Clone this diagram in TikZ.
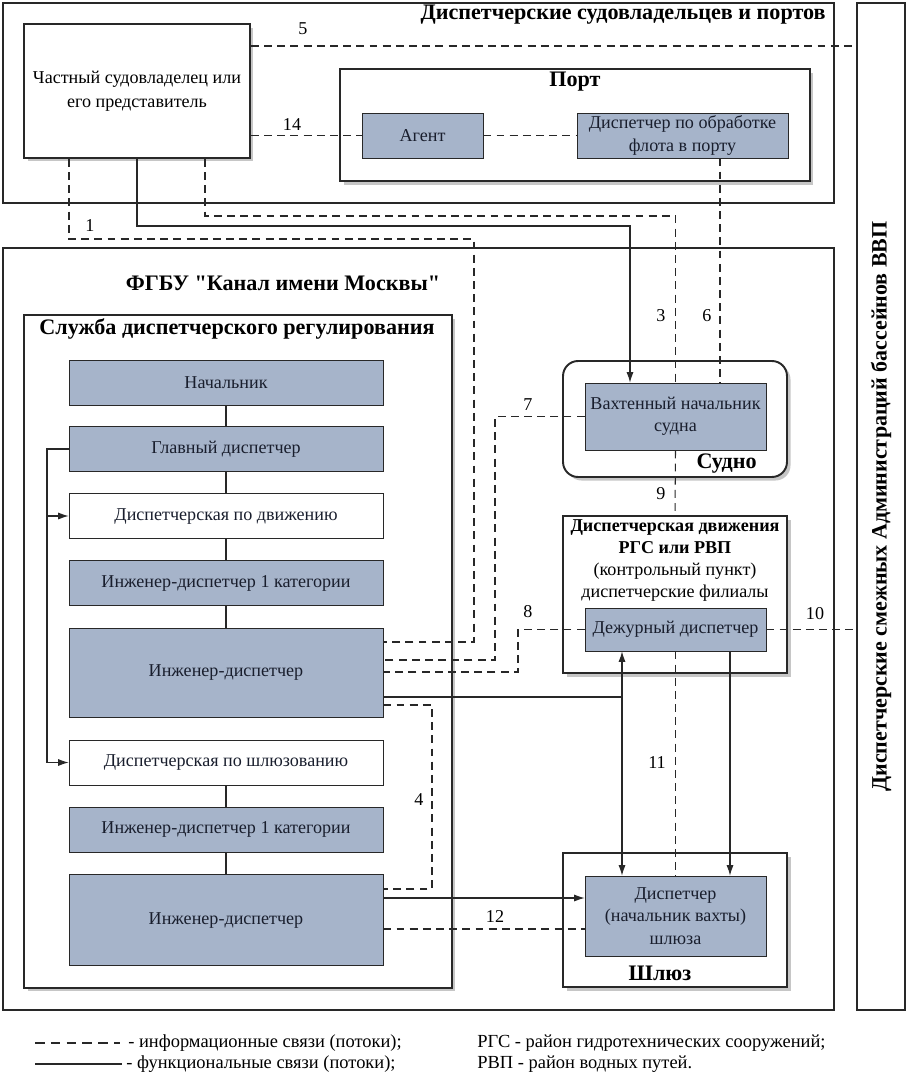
\documentclass[tikz,border=0pt]{standalone}
\usepackage{fontspec}
\setmainfont{Liberation Serif}[Ligatures=TeXOff]
\usetikzlibrary{arrows.meta,positioning,shadows,calc}
\definecolor{boxFill}{RGB}{166,180,202}
\definecolor{boxLine}{RGB}{40,40,40}
\definecolor{textInk}{RGB}{25,30,45}
\tikzstyle{outerBox} =[draw=boxLine,line width=1.2pt,rectangle,inner sep=0pt]
\tikzstyle{frameBox} =[draw=boxLine,line width=1.1pt,rectangle,inner sep=0pt,fill=white,
                       drop shadow={shadow xshift=2pt,shadow yshift=-2pt,opacity=0.45}]
\tikzstyle{grayBox}  =[draw=boxLine,fill=boxFill,rectangle,minimum width=6.28cm,minimum height=0.9cm,
                       inner sep=0pt,align=center,text=textInk,font=\fontsize{10.3}{12.8}\selectfont]
\tikzstyle{whiteBox} =[grayBox,fill=white]
\tikzstyle{title}    =[inner sep=0pt,align=center,font=\bfseries\fontsize{12.6}{14.5}\selectfont]
\tikzstyle{num}      =[inner sep=1pt,font=\fontsize{10.3}{12}\selectfont]
\tikzstyle{note}     =[inner sep=0pt,anchor=west,font=\fontsize{10.5}{12}\selectfont]
\tikzstyle{info}     =[draw=boxLine,line width=0.6pt,dash pattern=on 4.5pt off 3pt]
\tikzstyle{func}     =[draw=boxLine,line width=0.6pt]

\begin{document}
\begin{tikzpicture}[x=0.02cm,y=-0.02cm,>={Latex[length=6pt,width=4pt]}]
\useasboundingbox (0,0) rectangle (910,1091);

% outer frames
\node[outerBox,minimum width=16.62cm,minimum height=4cm] (owners) at (418.5,103) {};
\node[title,anchor=north east] (ownersTitle) at (826,5) {Диспетчерские судовладельцев и портов};
\node[outerBox,minimum width=16.62cm,minimum height=15.24cm] (fgbu) at (418.5,629) {};
\node[title] (fgbuTitle) at (283,283) {ФГБУ "Канал имени Москвы"};
\node[outerBox,minimum width=0.96cm,minimum height=20.14cm] (adm) at (881,506.5) {};
\node[title,rotate=90,font=\bfseries\fontsize{12.5}{14}\selectfont] (admTitle) at (adm.center)
  {Диспетчерские смежных Администраций бассейнов ВВП};

% owners and port
\node[frameBox,minimum width=4.52cm,minimum height=2.68cm,align=center,
      font=\fontsize{10.3}{12.8}\selectfont] (owner) at (137,91)
  {Частный судовладелец или\\[1pt]его представитель};
\node[frameBox,minimum width=9.4cm,minimum height=2.24cm] (port) at (575,125) {};
\node[title] (portTitle) at (575,82) {Порт};
\node[grayBox,minimum width=2.42cm] (agent) at (422.5,135.5) {Агент};
\node[grayBox,minimum width=4.22cm] (portDisp) at (682.5,135.5) {Диспетчер по обработке\\флота в порту};

% service
\node[frameBox,minimum width=8.56cm,minimum height=13.46cm] (service) at (238,651.5) {};
\node[title] (serviceTitle) at (237,329) {Служба диспетчерского регулирования};
\node[grayBox]  (chief) at (226,382.5) {Начальник};
\node[grayBox]  (mainD) at (226,449)   {Главный диспетчер};
\node[whiteBox] (moveD) at (226,516)   {Диспетчерская по движению};
\node[grayBox]  (engA1) at (226,583)   {Инженер-диспетчер 1 категории};
\node[grayBox,minimum height=1.78cm] (engA) at (226,672.5) {Инженер-диспетчер};
\node[whiteBox] (lockD) at (226,762.5) {Диспетчерская по шлюзованию};
\node[grayBox]  (engB1) at (226,829.5) {Инженер-диспетчер 1 категории};
\node[grayBox,minimum height=1.82cm] (engB) at (226,920) {Инженер-диспетчер};

% ship, traffic, lock
\node[frameBox,rounded corners=0.3cm,minimum width=4.48cm,minimum height=2.32cm] (ship) at (675,419) {};
\node[grayBox,minimum width=3.62cm,minimum height=1.34cm] (watch) at (675.5,416.5) {Вахтенный начальник\\судна};
\node[title,anchor=south east] (shipTitle) at (757,474) {Судно};
\node[frameBox,minimum width=4.48cm,minimum height=3.14cm] (traffic) at (675,594.5) {};
\node[inner sep=0pt,align=center,font=\fontsize{10.3}{12.5}\selectfont,anchor=north] (trafficTitle) at (675,519)
  {\textbf{Диспетчерская движения}\\\textbf{РГС или РВП}\\(контрольный пункт)\\диспетчерские филиалы};
\node[grayBox,minimum width=3.62cm,minimum height=0.86cm] (duty) at (675.5,629.5) {Дежурный диспетчер};
\node[frameBox,minimum width=4.48cm,minimum height=2.68cm] (lock) at (675,920) {};
\node[grayBox,minimum width=3.62cm,minimum height=1.6cm] (lockDisp) at (675.5,916)
  {Диспетчер\\(начальник вахты)\\шлюза};
\node[title] (lockTitle) at (660,973) {Шлюз};

% bend points
\coordinate (b1)  at (69,239);
\coordinate (b1r) at (474,642);
\coordinate (s3)  at (137,226);
\coordinate (s3r) at (630,0);
\coordinate (d3)  at (205,216);
\coordinate (d6)  at (720,0);
\coordinate (l5)  at (0,46);
\coordinate (b7)  at (495,660);
\coordinate (b8)  at (518,672);
\coordinate (f1)  at (622,697);
\coordinate (f2)  at (730,0);
\coordinate (b4a) at (432,705);
\coordinate (b4)  at (432,889);
\coordinate (a12) at (0,898);
\coordinate (d12) at (0,929);
\coordinate (lb)  at (47,762.5);

% functional links
\foreach \a/\b in {chief/mainD,mainD/moveD,moveD/engA1,engA1/engA,lockD/engB1,engB1/engB}
  \draw[func] (\a.south) -- (\b.north);
\draw[func] (mainD.west) -| (lb);
\draw[func,->] (lb) -- (lockD.west);
\draw[func,->] (lb |- moveD.west) -- (moveD.west);
\draw[func,->] (owner.south -| s3) -- (s3) -| (watch.north -| s3r);
\draw[func] (engA.east |- f1) -- (f1);
\draw[func,<->] (duty.south -| f1) -- (lockDisp.north -| f1);
\draw[func,->] (duty.south -| f2) -- (lockDisp.north -| f2);
\draw[func,->] (engB.east |- a12) -- (lockDisp.west |- a12);

% information links
\draw[info] (owner.south -| b1) -- (b1) -| (b1r) -- (engA.east |- b1r);
\draw[info] (owner.east |- l5) -- (adm.west |- l5);
\draw[info] (owner.east |- agent.west) -- (agent.west);
\draw[info] (agent.east) -- (portDisp.west);
\draw[info] (owner.south -| d3) -- (d3) -| (watch.north);
\draw[info] (portDisp.south -| d6) -- (watch.north -| d6);
\draw[info] (watch.west) -| (b7) -- (engA.east |- b7);
\draw[info] (duty.west) -| (b8) -- (engA.east |- b8);
\draw[info] (watch.south) -- (traffic.north);
\draw[info] (duty.south) -- (lockDisp.north);
\draw[info] (duty.east) -- (adm.west |- duty.east);
\draw[info] (engA.east |- b4a) -- (b4a) -- (b4) -- (engB.east |- b4);
\draw[info] (engB.east |- d12) -- (lockDisp.west |- d12);

% link numbers
\node[num] (n1)  at (90,226)  {1};
\node[num] (n3)  at (661,316) {3};
\node[num] (n4)  at (419,800) {4};
\node[num] (n5)  at (303,29)  {5};
\node[num] (n6)  at (707,316) {6};
\node[num] (n7)  at (528,405) {7};
\node[num] (n8)  at (528,612) {8};
\node[num] (n9)  at (661,494) {9};
\node[num] (n10) at (815,614) {10};
\node[num] (n11) at (657,763) {11};
\node[num] (n12) at (495,916) {12};
\node[num] (n14) at (292,125) {14};

% legend
\coordinate (lgA) at (35,1043);
\coordinate (lgB) at (120,1043);
\coordinate (lgC) at (35,1064);
\coordinate (lgD) at (122,1064);
\draw[info,dash pattern=on 5.5pt off 3.5pt] (lgA) -- (lgB);
\draw[func] (lgC) -- (lgD);
\node[note] (lgInfo) at (128,1043) {- информационные связи (потоки);};
\node[note] (lgFunc) at (126,1064) {- функциональные связи (потоки);};
\node[note] (lgRgs)  at (477,1043) {РГС - район гидротехнических сооружений;};
\node[note] (lgRvp)  at (477,1064) {РВП - район водных путей.};
\end{tikzpicture}
\end{document}
